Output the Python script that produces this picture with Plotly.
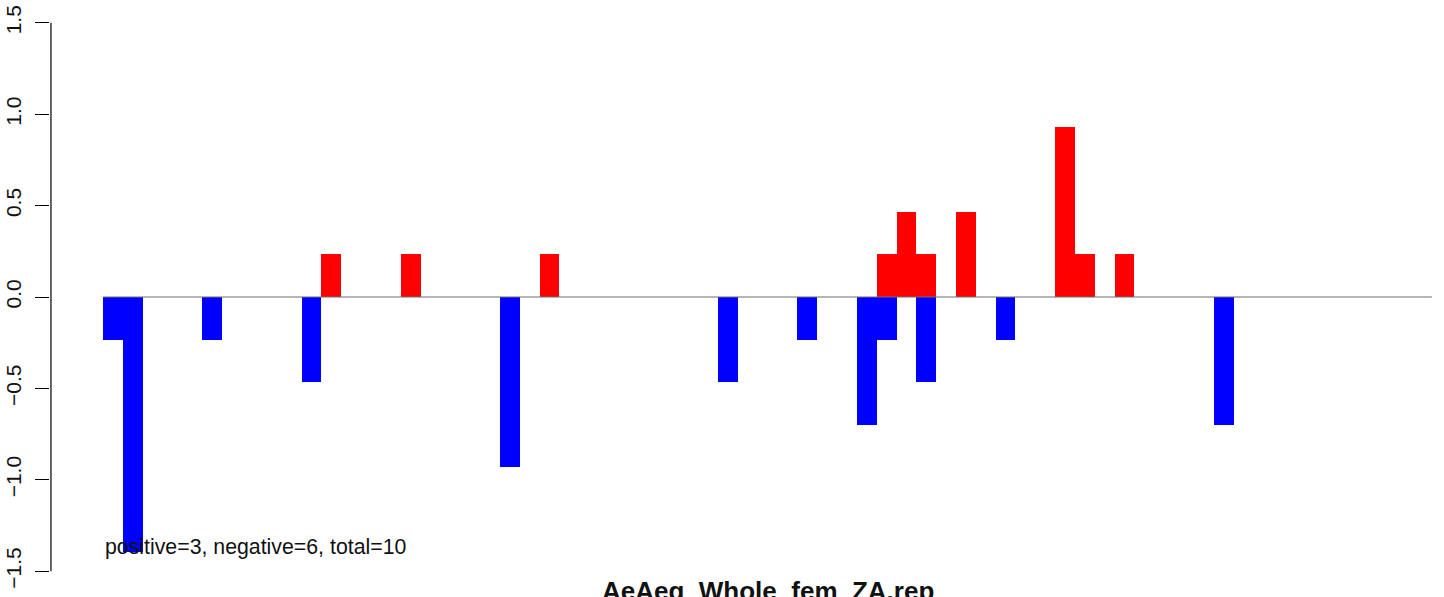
import plotly.graph_objects as go

# Data (bar slot index -> value)
pos_x = [11, 15, 22, 39, 40, 41, 43, 48, 49, 51]
pos_y = [0.233, 0.233, 0.233, 0.233, 0.465, 0.233, 0.465, 0.930, 0.233, 0.233]
neg_x = [0, 1, 5, 10, 20, 31, 35, 38, 39, 41, 45, 56]
neg_y = [-0.233, -1.395, -0.233, -0.465, -0.930, -0.465, -0.233, -0.698, -0.233, -0.465, -0.233, -0.698]
n_slots = 67
y_ticks = [-1.5, -1.0, -0.5, 0.0, 0.5, 1.0, 1.5]
y_ticktext = ["\u22121.5", "\u22121.0", "\u22120.5", "0.0", "0.5", "1.0", "1.5"]
title_text = "AeAeg_Whole_fem_ZA.rep"
note_text = "positive=3, negative=6, total=10"

FONT = "Liberation Sans, Arial, Helvetica, sans-serif"

fig = go.Figure()
fig.add_trace(go.Bar(x=neg_x, y=neg_y, width=1.0, marker=dict(color="#0000FF", line=dict(width=0)),
                     showlegend=False, hoverinfo="x+y"))
fig.add_trace(go.Bar(x=pos_x, y=pos_y, width=1.0, marker=dict(color="#FF0000", line=dict(width=0)),
                     showlegend=False, hoverinfo="x+y"))

# zero line
fig.add_shape(type="line", xref="x", yref="y", x0=-0.5, x1=n_slots - 0.5, y0=0, y1=0,
              line=dict(color="#6e6e6e", width=1.2), layer="above")
# y axis line (only between the end ticks, R style)
fig.add_shape(type="line", xref="paper", yref="y", x0=0.0007, x1=0.0007, y0=y_ticks[0], y1=y_ticks[-1],
              line=dict(color="black", width=1.2), layer="above")

fig.add_annotation(text=note_text, x=-0.5, y=-1.368, xref="x", yref="y", xanchor="left", yanchor="middle",
                   showarrow=False, font=dict(family=FONT, size=21.3, color="#111111"))
fig.add_annotation(text="<b>" + title_text + "</b>", x=(n_slots - 1) / 2, y=0.03, xref="x", yref="paper",
                   xanchor="center", yanchor="top", showarrow=False,
                   font=dict(family=FONT, size=26, color="#111111"))

fig.update_layout(
    width=1444, height=597,
    margin=dict(l=50, r=0, t=2, b=5, autoexpand=False),
    paper_bgcolor="white", plot_bgcolor="white",
    barmode="overlay", bargap=0,
    font=dict(family=FONT, size=20, color="black"),
    xaxis=dict(range=[-3.188, 67.11], showgrid=False, zeroline=False, showline=False,
               showticklabels=False, ticks="", automargin=False),
    yaxis=dict(range=[-1.614, 1.614], showgrid=False, zeroline=False, showline=False,
               tickvals=y_ticks, ticktext=y_ticktext, ticks="outside", ticklen=14,
               tickwidth=1.2, tickcolor="black", tickangle=-90, automargin=False,
               tickfont=dict(family=FONT, size=21, color="#111111"), ticklabelstandoff=6),
)

fig.write_html("out.html", config={"displayModeBar": False},
               post_script="document.body.style.margin='0';document.body.style.overflow='hidden';")
